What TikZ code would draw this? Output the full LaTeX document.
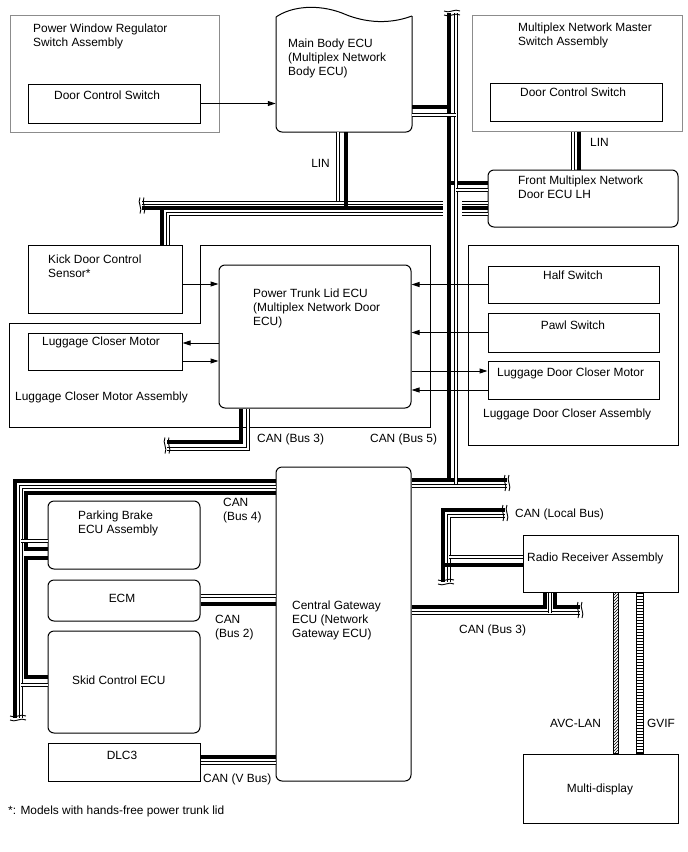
\documentclass[tikz,border=0pt]{standalone}
\usepackage{fontspec}
\setmainfont{Liberation Sans}
\usetikzlibrary{positioning,arrows.meta,fit,patterns}
\tikzset{
  box/.style ={draw=black, line width=1pt, inner sep=0pt},
  rbox/.style={box, rounded corners=6pt},
  gbox/.style={box, draw=black!45},
  txt/.style ={anchor=base west, inner sep=0pt, align=left, font=\fontsize{11.9}{14.3}\selectfont},
  ctxt/.style={txt, anchor=base},
  arr/.style ={-{Triangle[length=8pt,width=5pt]}, line width=1pt},
  wb/.style  ={line width=4.5pt},
  wh/.style  ={double=white, line width=1.1pt, double distance=2.2pt},
  brkmark/.pic={
    \draw[line width=0.9pt] (-2,-8) .. controls (-5,-3) and (1,3) .. (-2,8);
    \draw[line width=0.9pt] (2,-8) .. controls (-1,-3) and (5,3) .. (2,8);
  },
}

\begin{document}
\begin{tikzpicture}[x=1pt,y=-1pt]
  \useasboundingbox (0,0) rectangle (688,852);

  % top row
  \node[gbox, fit={(10,15) (219,132)}] (pwrassy) {};
  \node[txt] (pwrassytxt) at (33,46.3) {Power Window Regulator\\Switch Assembly};
  \node[box, fit={(28,84) (200,123)}] (dcsl) {};
  \node[txt] (dcsltxt) at (54,99) {Door Control Switch};

  \node[inner sep=0pt, fit={(276,17) (412,132)}] (mbecu) {};
  \draw[line width=1pt, rounded corners=6pt] (276,17) -- (276,132) -- (412,132) -- (412,16);
  \draw[line width=1pt] (276,17) .. controls (292,6) and (318,4) .. (342,13)
                               .. controls (360,21) and (385,26) .. (412,16);
  \node[txt] (mbecutxt) at (288,75.6) {Main Body ECU\\(Multiplex Network\\Body ECU)};

  \node[gbox, fit={(472,15) (682,131)}] (mmsassy) {};
  \node[txt] (mmsassytxt) at (518,45.3) {Multiplex Network Master\\Switch Assembly};
  \node[box, fit={(490,83) (662,121)}] (dcsr) {};
  \node[txt] (dcsrtxt) at (520,96) {Door Control Switch};

  \node[rbox, fit={(488,170) (678,227)}] (fdecu) {};
  \node[txt] (fdecutxt) at (518,198.3) {Front Multiplex Network\\Door ECU LH};
  \node[txt, anchor=base east] (linl) at (330,167) {LIN};
  \node[txt] (linr) at (590,146) {LIN};

  % trunk lid area
  \draw[line width=1pt] (200,245) -- (430,245) -- (430,427) -- (9,427) -- (9,323) -- (200,323) -- cycle;
  \node[box, fit={(28,245) (182,313)}] (kick) {};
  \node[txt] (kicktxt) at (48,277.3) {Kick Door Control\\Sensor*};
  \node[box, fit={(28,333) (182,370)}] (lcm) {};
  \node[txt] (lcmtxt) at (42,345) {Luggage Closer Motor};
  \node[txt] (lcmassytxt) at (15,400) {Luggage Closer Motor Assembly};
  \node[rbox, fit={(219,265) (411,408)}] (ptl) {};
  \node[txt] (ptltxt) at (253,325.6) {Power Trunk Lid ECU\\(Multiplex Network Door\\ECU)};

  \node[box, fit={(468,245) (678,445)}] (ldcassy) {};
  \node[box, fit={(488,266) (659,303)}] (half) {};
  \node[ctxt] (halftxt) at (573,279) {Half Switch};
  \node[box, fit={(488,313) (659,352)}] (pawl) {};
  \node[ctxt] (pawltxt) at (573,329) {Pawl Switch};
  \node[box, fit={(488,361) (659,399)}] (ldcm) {};
  \node[txt] (ldcmtxt) at (497,376) {Luggage Door Closer Motor};
  \node[txt] (ldcassytxt) at (483,417) {Luggage Door Closer Assembly};
  \node[txt] (canbusc) at (257,442) {CAN (Bus 3)};
  \node[txt] (canbuse) at (370,442) {CAN (Bus 5)};

  % gateway area
  \node[rbox, fit={(276,467) (411,781)}] (cgw) {};
  \node[txt] (cgwtxt) at (292,637.6) {Central Gateway\\ECU (Network\\Gateway ECU)};
  \node[rbox, fit={(48,501) (200,569)}] (pkb) {};
  \node[txt] (pkbtxt) at (78,533.3) {Parking Brake\\ECU Assembly};
  \node[rbox, fit={(48,580) (200,621)}] (ecm) {};
  \node[ctxt] (ecmtxt) at (122,602) {ECM};
  \node[rbox, fit={(48,631) (200,733)}] (skid) {};
  \node[txt] (skidtxt) at (72,684) {Skid Control ECU};
  \node[box, fit={(48,743) (200,781)}] (dlc) {};
  \node[ctxt] (dlctxt) at (122,759) {DLC3};
  \node[txt] (canbusd) at (223,520.3) {CAN\\(Bus 4)};
  \node[txt] (canbusb) at (215,637.3) {CAN\\(Bus 2)};
  \node[txt] (canvbus) at (203,782) {CAN (V Bus)};
  \node[txt] (note) at (8,814) {*: Models with hands-free power trunk lid};

  \node[box, fit={(523,535) (678,592)}] (radio) {};
  \node[txt] (radiotxt) at (527,561) {Radio Receiver Assembly};
  \node[txt] (canlocal) at (515,517) {CAN (Local Bus)};
  \node[txt] (canbuscr) at (459,633) {CAN (Bus 3)};
  \node[box, fit={(523,754) (678,823)}] (mdisp) {};
  \node[ctxt] (mdisptxt) at (600,792) {Multi-display};
  \node[txt] (avclan) at (550,727) {AVC-LAN};
  \node[txt] (gvif) at (647,727) {GVIF};

  \draw[line width=0.6pt, pattern=north east lines] (radio.south -| 613,0) rectangle (mdisp.north -| 618,0);
  \draw[line width=0.6pt, pattern=horizontal lines] (radio.south -| 636,0) rectangle (mdisp.north -| 643,0);

  % solid wires
  \draw[wb] (449,13) -- (449,480) -- (cgw.east |- 0,480);
  \draw[wb] (449,480) -- (507,480);
  \draw[wb] (mbecu.east |- 0,107) -- (449,107);
  \draw[wb] (449,183) -- (fdecu.west |- 0,183);
  \draw[wb] (142,208) -- (443,208);
  \draw[wb] (462,208) -- (fdecu.west |- 0,208);
  \draw[wb] (162,208) -- (kick.north -| 162,0);
  \draw[wb] (mmsassy.south -| 579,0) -- (fdecu.north -| 579,0);
  \draw[wb] (ptl.south -| 241,0) -- (241,442) -- (167,442);
  \draw[wb] (505,510) -- (443,510) -- (443,582);
  \draw[wb] (cgw.east |- 0,607) -- (545,607) -- (radio.south -| 545,0);
  \draw[wb] (radio.south -| 555,0) -- (555,607) -- (580,607);
  \draw[wb] (cgw.west |- 0,481) -- (15,481) -- (15,718);
  \draw[wb] (cgw.west |- 0,493) -- (26,493) -- (26,549) -- (pkb.west |- 0,549);
  \draw[wb] (pkb.west |- 0,558) -- (26,558) -- (26,677) -- (skid.west |- 0,677);
  \draw[wb] (ecm.east |- 0,604) -- (cgw.west |- 0,604);
  \draw[wb] (dlc.east |- 0,757) -- (cgw.west |- 0,757);

  % hollow wires
  \draw[wh] (456,13) -- (456,486);
  \draw[wh] (cgw.east |- 0,486) -- (507,486);
  \draw[wh] (mbecu.east |- 0,115) -- (456,115);
  \draw[wh] (456,190) -- (fdecu.west |- 0,190);
  \draw[wh] (mbecu.south -| 338,0) -- (338,203);
  \draw[wh] (142,203) -- (443,203);
  \draw[wh] (462,203) -- (fdecu.west |- 0,203);
  \draw[wh] (443,214) -- (168,214) -- (kick.north -| 168,0);
  \draw[wh] (462,214) -- (fdecu.west |- 0,214);
  \draw[wh] (mmsassy.south -| 573,0) -- (fdecu.north -| 573,0);
  \draw[wh] (ptl.south -| 248,0) -- (248,449) -- (167,449);
  \draw[wh] (505,516) -- (449,516) -- (449,582);
  \draw[wh] (449,557) -- (radio.west |- 0,557);
  \draw[wh] (cgw.east |- 0,613) -- (580,613);
  \draw[wh] (radio.south -| 550,0) -- (550,613);
  \draw[wh] (cgw.west |- 0,487) -- (21,487) -- (21,718);
  \draw[wh] (21,541) -- (pkb.west |- 0,541);
  \draw[wh] (21,685) -- (skid.west |- 0,685);
  \draw[wh] (ecm.east |- 0,596) -- (cgw.west |- 0,596);
  \draw[wh] (dlc.east |- 0,763) -- (cgw.west |- 0,763);
  \draw[wb] (mbecu.south -| 346,0) -- (346,208);
  \draw[wb] (443,565) -- (radio.west |- 0,565);

  % break marks
  \pic[rotate=90] at (452,13) {brkmark};
  \pic at (142,205.5) {brkmark};
  \pic at (167,445.5) {brkmark};
  \pic at (507,483) {brkmark};
  \pic at (505,513) {brkmark};
  \pic[rotate=90] at (446,582) {brkmark};
  \pic at (580,610) {brkmark};
  \pic[rotate=90] at (18,718) {brkmark};

  % signal lines
  \draw[arr] (dcsl.east) -- (dcsl.east -| mbecu.west);
  \draw[arr] (kick.east |- 0,284) -- (ptl.west |- 0,284);
  \draw[arr] (ptl.west |- 0,343) -- (lcm.east |- 0,343);
  \draw[arr] (lcm.east |- 0,361) -- (ptl.west |- 0,361);
  \draw[arr] (half.west) -- (half.west -| ptl.east);
  \draw[arr] (pawl.west) -- (pawl.west -| ptl.east);
  \draw[arr] (ptl.east |- 0,371) -- (ldcm.west |- 0,371);
  \draw[arr] (ldcm.west |- 0,390) -- (ptl.east |- 0,390);
\end{tikzpicture}
\end{document}
